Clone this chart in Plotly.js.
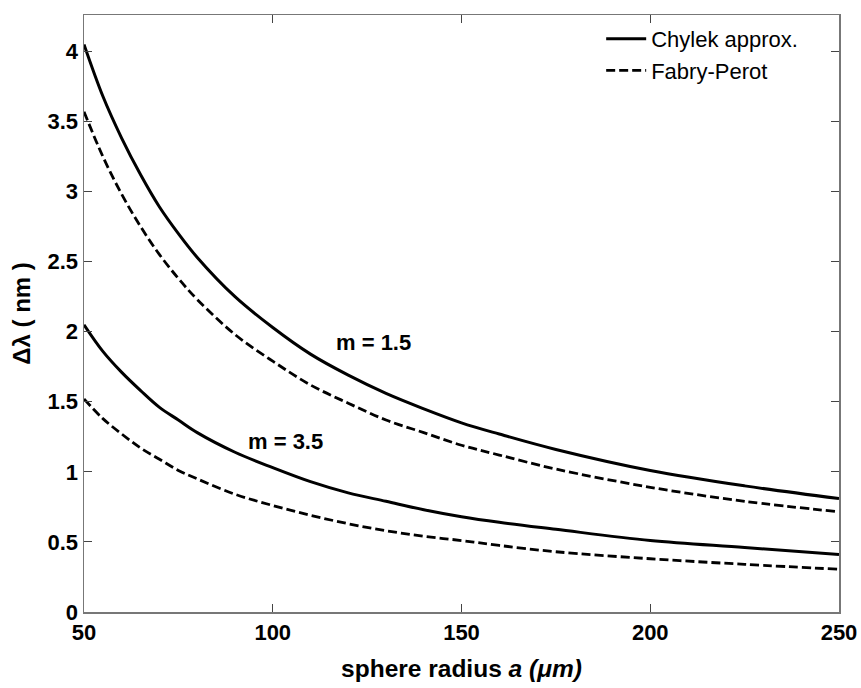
<!DOCTYPE html>
<html><head><meta charset="utf-8">
<script src="https://cdn.plot.ly/plotly-3.0.1.min.js"></script>
<style>html,body{margin:0;padding:0;background:#fff}#chart{width:861px;height:688px}</style>
</head><body><div id="chart"></div>
<script>
const radius = [50,55,60,65,70,75,80,90,100,110,120,130,140,150,160,175,200,225,250];
const chylek15 = [4.05,3.68,3.38,3.12,2.89,2.70,2.53,2.25,2.03,1.84,1.69,1.56,1.45,1.35,1.27,1.16,1.01,0.90,0.81];
const fabry15  = [3.57,3.25,2.98,2.75,2.55,2.38,2.23,1.98,1.79,1.62,1.49,1.37,1.28,1.19,1.12,1.02,0.89,0.79,0.715];
const chylek35 = [2.05,1.86,1.71,1.58,1.46,1.37,1.28,1.14,1.03,0.93,0.85,0.79,0.73,0.68,0.64,0.59,0.51,0.46,0.41];
const fabry35  = [1.52,1.38,1.27,1.17,1.09,1.01,0.95,0.84,0.76,0.69,0.63,0.58,0.54,0.51,0.475,0.43,0.38,0.34,0.305];
const seriesNames = ['Chylek approx.','Fabry-Perot'];
const xTicks = [50,100,150,200,250];
const yTicks = [0,0.5,1,1.5,2,2.5,3,3.5,4];
const labels = [{text:'m = 1.5', x:126.8, y:1.92},{text:'m = 3.5', x:103.5, y:1.22}];

const solid = {color:'#000', width:3, shape:'spline'};
const dashed = {color:'#000', width:2.8, dash:'9px,4px', shape:'spline'};
const traces = [
  {x:radius, y:chylek15, mode:'lines', line:solid, name:seriesNames[0], showlegend:true, legendgroup:'c'},
  {x:radius, y:fabry15, mode:'lines', line:dashed, name:seriesNames[1], showlegend:true, legendgroup:'f'},
  {x:radius, y:chylek35, mode:'lines', line:solid, name:seriesNames[0], showlegend:false, legendgroup:'c'},
  {x:radius, y:fabry35, mode:'lines', line:dashed, name:seriesNames[1], showlegend:false, legendgroup:'f'}
];
const fam = 'Arial, Liberation Sans';
const tickFont = {family:fam, size:22, color:'#000'};
const layout = {
  width:861, height:688,
  margin:{l:84, r:22, t:15, b:76},
  paper_bgcolor:'#fff', plot_bgcolor:'#fff',
  font:{family:fam, color:'#000'},
  xaxis:{range:[50,250], tickvals:xTicks, ticktext:xTicks.map(v=>'<b>'+v+'</b>'), ticks:'inside', ticklen:8, tickcolor:'#444',
    showline:true, linecolor:'#777', linewidth:1.5, mirror:'ticks', showgrid:false, zeroline:false,
    tickfont:tickFont,
    title:{text:'<b>sphere radius <i>a (μm)</i></b>', font:{family:fam, size:24.5, color:'#000'}, standoff:16}},
  yaxis:{range:[0,4.26], tickvals:yTicks, ticktext:yTicks.map(v=>'<b>'+v+'</b>'),
    ticks:'inside', ticklen:8, tickcolor:'#444',
    showline:true, linecolor:'#777', linewidth:1.5, mirror:'ticks', showgrid:false, zeroline:false,
    tickfont:tickFont,
    title:{text:'<b>Δλ ( nm )</b>', font:{family:fam, size:24, color:'#000'}, standoff:10}},
  legend:{x:0.685, y:0.995, xanchor:'left', yanchor:'top', bgcolor:'rgba(0,0,0,0)', borderwidth:0,
    font:{family:fam, size:22, color:'#000'}, itemwidth:40, tracegroupgap:0},
  annotations: labels.map(l => ({x:l.x, y:l.y, xref:'x', yref:'y', text:'<b>'+l.text+'</b>', showarrow:false,
    font:{family:fam, size:22, color:'#000'}}))
};
Plotly.newPlot('chart', traces, layout, {displayModeBar:false, staticPlot:true});
</script></body></html>
